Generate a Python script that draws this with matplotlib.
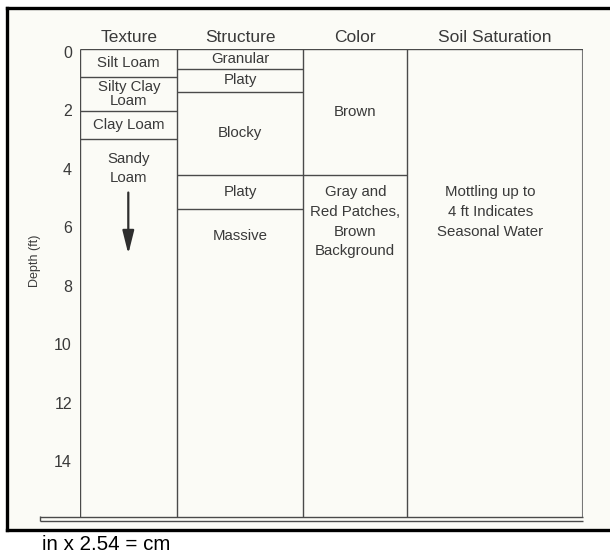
import matplotlib
matplotlib.use("Agg")
import matplotlib.pyplot as plt
from matplotlib.patches import Rectangle
from matplotlib.lines import Line2D
import matplotlib.transforms as mtransforms

plt.rcParams['font.family'] = ['Liberation Sans', 'DejaVu Sans']

# ---- data ----
columns = ["Texture", "Structure", "Color", "Soil Saturation"]
depth_ticks = [0, 2, 4, 6, 8, 10, 12, 14]
max_depth = 16

texture_bounds = [0, 0.96, 2.1, 3.08]
texture_labels = ["Silt Loam", "Silty Clay\nLoam", "Clay Loam"]
texture_open_label = "Sandy\nLoam"
texture_open_label_depth = 4.08
arrow_from, arrow_to = 4.9, 7.0

structure_bounds = [0, 0.68, 1.45, 4.29, 5.48]
structure_labels = ["Granular", "Platy", "Blocky", "Platy"]
structure_open_label = "Massive"
structure_open_label_depth = 6.4

color_bounds = [0, 4.29]
color_labels = ["Brown"]
color_open_label = "Gray and\nRed Patches,\nBrown\nBackground"
color_open_label_depth = 5.9

saturation_label = "Mottling up to\n4 ft Indicates\nSeasonal Water"
saturation_label_depth = 5.56

footer = "in x 2.54 = cm"

# ---- layout ----
W, H = 610, 554
fig = plt.figure(figsize=(W / 100, H / 100), dpi=100)
fig.patch.set_facecolor("white")

bg = "#fbfbf6"
ink = "#3a3a3a"
line_c = "#4a4a4a"

# cream fill inside frame
fig.patches.append(Rectangle((7.3 / W, 1 - 530 / H), 1.0, (530 - 8.3) / H,
                             transform=fig.transFigure, facecolor=bg,
                             edgecolor="none", zorder=-10))

left_px, right_px, top_px, bot_px = 80.3, 583.0, 49.3, 517.0
ax = fig.add_axes([left_px / W, 1 - bot_px / H, (right_px - left_px) / W,
                   (bot_px - top_px) / H])
ax.set_facecolor("none")
width = right_px - left_px
height = bot_px - top_px
ax.set_xlim(0, width)
ax.set_ylim(max_depth, 0)
for s in ax.spines.values():
    s.set_visible(False)
ax.set_xticks([])
ax.set_yticks(depth_ticks)
ax.set_yticklabels([str(t) for t in depth_ticks])
ax.tick_params(axis="y", length=0, pad=6, labelsize=11.5, labelcolor=ink)
offset = mtransforms.ScaledTranslation(0, -2.5 / 100, fig.dpi_scale_trans)
for lbl in ax.get_yticklabels():
    lbl.set_transform(lbl.get_transform() + offset)

edges = [0, 97.0, 223.0, 327.0, width]
centers = [(edges[i] + edges[i + 1]) / 2 for i in range(4)]

lw = 1.0
# vertical column lines
ax.vlines(edges, 0, max_depth, colors=line_c, linewidth=lw)
ax.vlines([width - 1.5], 0, max_depth, colors="#777777", linewidth=0.8)
# top line
ax.hlines(0, 0, width, colors=line_c, linewidth=lw)
# bottom double line
ax.hlines(max_depth, -40, width, colors=line_c, linewidth=lw, clip_on=False)
ax.hlines(max_depth + 0.13, -40, width, colors=line_c, linewidth=lw, clip_on=False)
ax.vlines([-40], max_depth - 0.05, max_depth + 0.15, colors=line_c,
          linewidth=lw, clip_on=False)

# headers
for name, cx in zip(columns, centers):
    ax.text(cx, -0.39, name, ha="center", va="center", fontsize=12.5,
            color=ink, clip_on=False)


def draw_column(ci, bounds, labels, fs=10.8):
    x0, x1 = edges[ci], edges[ci + 1]
    ax.hlines(bounds[1:], x0, x1, colors=line_c, linewidth=lw)
    for i, lab in enumerate(labels):
        yc = (bounds[i] + bounds[i + 1]) / 2
        ax.text(centers[ci], yc, lab, ha="center", va="center", fontsize=fs,
                color=ink, linespacing=1.0)


draw_column(0, texture_bounds, texture_labels)
draw_column(1, structure_bounds, structure_labels)
draw_column(2, color_bounds, color_labels)

ax.text(centers[0], texture_open_label_depth, texture_open_label, ha="center",
        va="center", fontsize=10.8, color=ink, linespacing=1.5)
ax.text(centers[1], structure_open_label_depth, structure_open_label,
        ha="center", va="center", fontsize=10.8, color=ink)
ax.text(centers[2], color_open_label_depth, color_open_label, ha="center",
        va="center", fontsize=10.8, color=ink, linespacing=1.52)
ax.text(centers[3] - 5, saturation_label_depth, saturation_label, ha="center",
        va="center", fontsize=10.8, color=ink, linespacing=1.52)

# arrow in texture column
ax.annotate("", xy=(centers[0] - 0.5, arrow_to),
            xytext=(centers[0] - 0.5, arrow_from),
            arrowprops=dict(arrowstyle="-|>,head_length=1.4,head_width=0.35",
                            color="#2e2e2e", lw=1.6, shrinkA=0, shrinkB=0))

ax.set_ylabel("Depth (ft)", fontsize=9, color=ink)
ax.yaxis.set_label_coords(-(left_px - 41) / width, (bot_px - 261) / height)

# black frame
fl = dict(color="black", linewidth=2.4, transform=fig.transFigure,
          solid_capstyle="projecting")
y_top = 1 - 8.3 / H
y_bot = 1 - 530 / H
x_l = 7.3 / W
fig.lines.append(Line2D([x_l, 1.02], [y_top, y_top], **fl))
fig.lines.append(Line2D([x_l, 1.02], [y_bot, y_bot], **fl))
fig.lines.append(Line2D([x_l, x_l], [y_bot, y_top], **fl))

fig.text(42 / W, 1 - 549.5 / H, footer, ha="left", va="baseline",
         fontsize=14.8, color="black")

fig.savefig("out.png", dpi=100, facecolor=fig.get_facecolor())
